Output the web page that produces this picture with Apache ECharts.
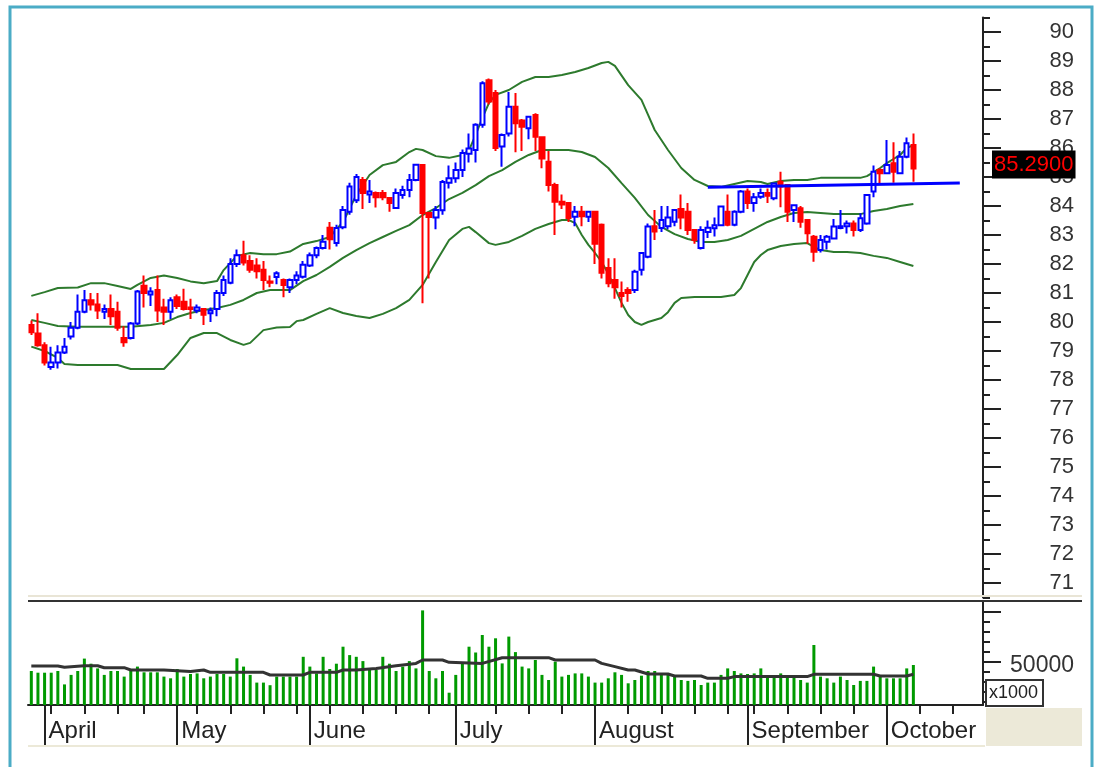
<!DOCTYPE html>
<html><head><meta charset="utf-8">
<script src="https://cdn.jsdelivr.net/npm/echarts@6/dist/echarts.min.js"></script>
<style>html,body{margin:0;padding:0;background:#fff;}#c{width:1097px;height:767px;}</style>
</head><body><div id="c"></div>
<script>
// ---- data ----
const slotCount = 144; // trading-day slots on the time axis (134 with data)
const monthNames = ['April','May','June','July','August','September','October'];
const monthStart = [2, 22, 42, 64, 85, 108, 129];
const weekTicks = [3, 8, 13, 17, 25, 30, 35, 40, 45, 50, 55, 60, 70, 75, 80, 90, 95, 100, 105, 109, 114, 119, 124, 134, 139];
const priceTicks = [71,72,73,74,75,76,77,78,79,80,81,82,83,84,85,86,87,88,89,90];
const volumeLabels = [50000];

const open = [79.9,79.6,79.2,78.45,78.6,78.95,79.5,79.8,80.35,80.75,
80.6,80.35,80.45,80.35,79.45,79.45,79.95,81.25,80.95,81.1,
80.5,80.35,80.85,80.7,80.5,80.4,80.45,80.3,80.45,81.0,
81.35,82.0,82.3,82.1,81.95,81.8,81.4,81.55,81.45,81.2,
81.45,81.56,81.95,82.3,82.55,83.25,82.72,83.27,83.8,84.2,
84.9,84.4,84.45,84.45,84.28,83.93,84.38,84.55,84.9,85.41,
83.76,83.6,83.85,84.8,84.96,85.24,85.8,85.93,86.8,88.34,
87.9,86.05,86.5,87.42,86.95,86.68,87.14,86.37,85.53,84.72,
84.15,84.1,83.63,83.8,83.63,83.8,83.35,81.86,81.45,81.0,
81.1,81.1,81.8,82.25,83.3,83.24,83.3,83.46,83.9,83.8,
83.17,82.55,83.1,83.23,83.34,83.8,83.35,83.8,84.5,84.1,
84.32,84.45,84.27,84.84,84.72,83.86,83.92,83.52,82.94,82.48,
82.77,82.88,83.24,83.3,83.4,83.17,83.4,84.5,85.24,85.13,
85.47,85.13,85.7,86.1];
const close = [79.65,79.2,78.6,78.6,78.95,79.15,79.8,80.35,80.75,80.6,
80.4,80.45,80.2,79.8,79.3,79.95,81.05,81.0,81.05,80.4,
80.35,80.75,80.55,80.45,80.45,80.5,80.25,80.4,81.0,81.45,
82.0,82.3,82.05,81.8,81.75,81.45,81.35,81.68,81.28,81.45,
81.6,81.97,82.3,82.55,82.77,82.85,83.24,83.86,84.67,85.0,
84.45,84.5,84.3,84.3,84.1,84.45,84.55,84.9,85.42,83.76,
83.62,83.86,84.83,84.96,85.24,85.83,85.98,86.8,88.23,87.6,
86.0,86.45,87.42,86.85,86.73,87.08,86.39,85.64,84.72,84.15,
84.05,83.59,83.8,83.65,83.8,82.7,81.7,81.34,81.2,80.9,
81.0,81.73,82.38,83.29,83.12,83.52,83.6,83.86,83.6,83.17,
82.83,83.17,83.25,83.34,83.98,83.35,83.8,84.5,84.1,84.3,
84.45,84.35,84.78,84.67,83.8,84.03,83.46,83.06,82.42,82.83,
82.94,83.29,83.3,83.4,83.17,83.58,84.38,85.18,85.13,85.41,
85.18,85.7,86.16,85.29];
const low = [79.55,79.15,78.5,78.35,78.4,78.9,79.4,79.75,80.3,80.4,
80.1,80.1,79.9,79.7,79.15,79.4,79.9,80.5,80.55,80.0,
79.9,80.1,80.45,80.4,80.1,80.3,79.9,80.0,80.2,80.9,
81.3,81.9,81.95,81.7,81.5,81.1,81.2,81.3,80.85,81.0,
81.3,81.5,81.9,82.2,82.5,82.5,82.6,83.2,83.7,84.1,
83.9,84.1,83.95,84.2,83.8,83.9,84.25,84.3,84.85,80.65,
81.5,83.2,83.7,84.6,84.8,85.0,85.5,85.5,86.7,87.5,
85.9,85.35,86.4,85.85,85.9,86.3,85.9,85.3,84.5,83.0,
83.9,83.45,83.3,83.3,83.45,82.0,81.5,81.2,80.8,80.5,
80.7,81.0,81.6,82.2,82.83,83.1,83.2,83.3,83.2,83.0,
82.7,82.5,82.9,82.95,83.3,83.3,83.3,83.75,83.9,83.8,
84.25,84.1,84.2,83.96,83.45,83.45,83.25,82.7,82.08,82.4,
82.5,82.85,83.2,83.05,82.95,83.1,83.35,84.3,84.75,85.1,
84.8,85.1,85.65,84.84];
const high = [80.05,80.3,79.3,79.15,79.2,79.45,80.0,80.95,81.1,81.0,
81.0,80.6,80.95,80.7,79.85,80.0,81.1,81.6,81.2,81.6,
80.8,80.85,80.95,81.15,80.8,80.6,80.45,80.5,81.1,81.6,
82.2,82.5,82.8,82.3,82.2,82.1,81.6,81.75,81.5,81.5,
81.75,82.1,82.4,82.6,83.0,83.45,83.35,84.0,84.8,85.1,
85.0,84.9,84.5,84.55,84.3,84.6,84.7,85.1,85.45,85.45,
83.8,84.0,84.9,85.4,85.5,85.95,86.5,86.85,88.3,88.4,
88.0,86.5,87.93,87.9,87.0,87.1,87.2,86.4,85.9,84.8,
84.4,84.1,84.0,84.0,83.8,83.8,83.4,82.2,82.2,81.4,
81.2,81.8,82.4,83.4,83.86,84.0,84.0,83.9,84.4,84.1,
83.2,83.3,83.5,83.6,84.0,84.4,83.85,84.55,84.6,84.45,
84.6,84.6,84.8,85.18,84.72,84.05,84.0,83.52,83.0,83.0,
83.0,83.55,83.86,83.5,83.5,83.75,84.4,85.4,85.3,86.28,
86.2,85.9,86.36,86.5];

const bbUpper = [[0,80.90],[2,81.03],[4,81.17],[7,81.19],[9,81.34],[11,81.34],[13,81.24],[15,81.14],[16,81.28],[18,81.52],[20,81.60],[22,81.52],[24,81.40],[26,81.34],[28,81.41],[29,81.79],[31,82.28],[33,82.38],[35,82.34],[37,82.34],[39,82.43],[41,82.69],[43,82.79],[45,82.93],[47,83.45],[49,84.38],[51,85.07],[53,85.41],[55,85.52],[57,85.86],[58,85.97],[59,85.93],[61,85.72],[63,85.66],[65,85.76],[66,85.93],[67,86.45],[68,87.03],[69,87.55],[70,87.83],[72,88.0],[74,88.28],[76,88.45],[78,88.45],[80,88.52],[82,88.62],[84,88.76],[86,88.93],[87,88.97],[88,88.83],[90,88.17],[92,87.66],[93,87.14],[94,86.62],[96,85.93],[98,85.31],[100,84.90],[102,84.69],[104,84.66],[106,84.76],[108,84.86],[110,84.83],[111,84.76],[113,84.86],[115,84.90],[117,84.90],[119,84.97],[121,84.97],[123,84.97],[125,84.97],[126,85.03],[127,85.17],[128,85.31],[129,85.48],[130,85.62],[131,85.76],[132,86.0],[133,86.10]];
const bbMiddle = [[0,80.07],[2,79.97],[4,79.86],[7,79.84],[15,79.84],[18,79.90],[20,79.97],[22,80.17],[24,80.31],[26,80.41],[28,80.48],[30,80.59],[32,80.76],[34,81.0],[36,81.10],[39,81.10],[41,81.41],[43,81.62],[45,81.90],[47,82.21],[49,82.48],[51,82.72],[53,82.93],[55,83.14],[57,83.34],[59,83.69],[61,83.93],[63,84.24],[65,84.45],[67,84.72],[69,85.03],[71,85.24],[73,85.52],[75,85.76],[77,85.93],[79,85.93],[81,85.93],[83,85.86],[85,85.69],[87,85.31],[89,84.79],[91,84.28],[93,83.69],[95,83.28],[97,83.03],[99,82.86],[101,82.76],[103,82.76],[105,82.83],[107,82.97],[109,83.21],[111,83.45],[113,83.62],[115,83.76],[117,83.79],[119,83.76],[121,83.72],[123,83.72],[125,83.72],[127,83.83],[129,83.90],[131,84.0],[133,84.07]];
const bbLower = [[0,79.15],[2,79.0],[4,78.76],[5,78.55],[7,78.52],[13,78.52],[15,78.38],[20,78.38],[22,78.86],[24,79.45],[26,79.62],[28,79.62],[30,79.38],[32,79.21],[33,79.28],[35,79.72],[37,79.81],[39,79.83],[40,80.03],[41,80.07],[43,80.28],[45,80.48],[47,80.31],[49,80.21],[51,80.14],[53,80.28],[55,80.48],[57,80.76],[59,81.28],[61,82.07],[63,82.83],[65,83.21],[66,83.28],[67,83.10],[69,82.72],[70,82.66],[72,82.76],[74,82.97],[76,83.21],[78,83.38],[80,83.52],[81,83.52],[82,83.41],[83,83.0],[84,82.66],[85,82.38],[86,82.07],[87,81.66],[88,81.17],[89,80.66],[90,80.24],[91,80.0],[92,79.90],[93,80.0],[95,80.14],[96,80.34],[97,80.66],[98,80.83],[100,80.86],[102,80.86],[104,80.86],[106,80.93],[107,81.17],[108,81.62],[109,82.07],[110,82.31],[111,82.48],[113,82.62],[115,82.69],[117,82.72],[118,82.59],[119,82.48],[121,82.41],[123,82.41],[125,82.38],[127,82.28],[129,82.21],[131,82.07],[133,81.93]];

const volume = [41000,39300,39300,39300,41000,27600,37100,41000,53400,48300,
43600,37100,41000,41000,35400,41000,45400,39700,39700,39700,
35400,33700,43000,35400,38000,38600,33700,35400,38000,38000,
35400,53700,45400,37100,29400,29400,26800,35400,35400,35400,
35400,55200,45400,38600,55200,43000,48300,65300,56900,55200,
50900,42000,42000,55200,48300,41000,45400,50900,43600,101600,
41000,33700,41000,19300,37100,48300,65300,59500,77000,65300,
73700,48600,75400,59900,45400,43600,52000,37100,32000,50300,
35400,37100,38600,38600,35400,29400,29400,33700,39700,37100,
28700,32000,36300,41000,41000,38000,38000,35400,32000,31100,
32000,27000,29400,29400,37100,43600,41000,38600,38000,38600,
43600,35400,35400,38600,35400,35400,32000,29400,67000,35400,
33700,29400,35400,32000,27000,31100,31100,45400,35400,33700,
33700,33700,43600,47000];
const volumeAvg = [[0,46000],[4,46000],[5,44800],[8,46300],[10,46300],[11,44300],[14,44300],[15,42000],[20,42000],[24,40400],[26,42000],[27,39700],[35,39700],[36,37000],[41,37000],[42,39700],[46,39700],[47,42000],[49,42000],[52,43600],[55,46300],[58,48600],[59,52000],[62,52000],[63,49700],[68,48600],[71,54300],[78,54300],[79,52000],[85,52000],[86,48600],[88,45400],[90,42000],[91,42000],[93,38000],[96,38000],[97,36000],[101,36000],[102,33700],[105,33700],[106,35400],[117,35400],[118,37700],[127,37700],[128,36000],[132,36000],[133,37700]];

const trendLine = [[102, 84.65], [140, 84.79]];
const lastPrice = 85.29;

// ---- chart ----
const slots = Array.from({length: slotCount}, (_, i) => String(i));
const candles = open.map((o, i) => [o, close[i], low[i], high[i]]);
const halfTicks = priceTicks.map(v => v - 0.5).concat([priceTicks[priceTicks.length - 1] + 0.5]);
const volMinor = [10000,20000,30000,40000,60000,70000,80000,90000];
const volMajor = [50000,100000];
const FONT = "'Liberation Sans', Arial, sans-serif";
const INK = '#222';

const chart = echarts.init(document.getElementById('c'), null, {renderer: 'canvas'});
chart.setOption({
  animation: false,
  backgroundColor: '#fff',
  textStyle: {fontFamily: FONT},
  grid: [
    {left: 28, width: 955, top: 17.5, height: 580},
    {left: 28, width: 955, top: 602, height: 103}
  ],
  xAxis: [
    {gridIndex: 0, type: 'category', data: slots, show: false, position: 'bottom'},
    {gridIndex: 1, type: 'category', data: slots, position: 'bottom',
      axisLine: {lineStyle: {color: INK, width: 2}},
      axisTick: {show: true, alignWithLabel: true, customValues: monthStart, length: 40, lineStyle: {color: INK, width: 2}},
      axisLabel: {customValues: monthStart, align: 'left', margin: 14,
        padding: [0, 0, 0, 4], fontSize: 24, color: INK, fontFamily: FONT,
        formatter: (v) => { const k = monthStart.indexOf(Number(v)); return k >= 0 ? monthNames[k] : ''; }},
      splitLine: {show: false}},
    {gridIndex: 1, type: 'category', data: slots, position: 'bottom', offset: 0,
      axisLine: {show: false},
      axisTick: {show: true, alignWithLabel: true, customValues: weekTicks, length: 9, lineStyle: {color: INK, width: 2}},
      axisLabel: {show: false}, splitLine: {show: false}}
  ],
  yAxis: [
    {gridIndex: 0, type: 'value', position: 'right', min: 70.5, max: 90.5, scale: true,
      axisLine: {show: true, lineStyle: {color: INK, width: 2}},
      axisTick: {show: true, customValues: priceTicks, length: 18, lineStyle: {color: INK, width: 2}},
      axisLabel: {customValues: priceTicks, align: 'right', margin: 91, fontSize: 22, color: '#333', fontFamily: FONT},
      splitLine: {show: false}},
    {gridIndex: 0, type: 'value', position: 'right', min: 70.5, max: 90.5, scale: true,
      axisLine: {show: false},
      axisTick: {show: true, customValues: halfTicks, length: 7, lineStyle: {color: INK, width: 2}},
      axisLabel: {show: false}, splitLine: {show: false}},
    {gridIndex: 1, type: 'value', position: 'right', min: 7000, max: 110000, scale: true,
      axisLine: {show: true, lineStyle: {color: INK, width: 2}},
      axisTick: {show: true, customValues: volMajor, length: 18, lineStyle: {color: INK, width: 2}},
      axisLabel: {customValues: volumeLabels, align: 'right', margin: 91, fontSize: 23, color: '#333', fontFamily: FONT,
        verticalAlign: 'top', padding: [-8, 0, 0, 0], formatter: (v) => String(v)},
      splitLine: {show: false}},
    {gridIndex: 1, type: 'value', position: 'right', min: 7000, max: 110000, scale: true,
      axisLine: {show: false},
      axisTick: {show: true, customValues: volMinor, length: 7, lineStyle: {color: INK, width: 2}},
      axisLabel: {show: false}, splitLine: {show: false}}
  ],
  series: [
    {type: 'line', xAxisIndex: 0, yAxisIndex: 0, data: bbUpper, symbol: 'none', z: 1,
      lineStyle: {color: '#2d7a2d', width: 2}},
    {type: 'line', xAxisIndex: 0, yAxisIndex: 0, data: bbMiddle, symbol: 'none', z: 1,
      lineStyle: {color: '#2d7a2d', width: 2}},
    {type: 'line', xAxisIndex: 0, yAxisIndex: 0, data: bbLower, symbol: 'none', z: 1,
      lineStyle: {color: '#2d7a2d', width: 2}},
    {type: 'candlestick', xAxisIndex: 0, yAxisIndex: 0, data: candles, barWidth: 5, z: 3,
      itemStyle: {color: '#ffffff', color0: '#ff0000', borderColor: '#0000ff', borderColor0: '#ff0000', borderWidth: 2},
      markLine: {silent: true, symbol: 'none', animation: false,
        data: [
          {yAxis: lastPrice, lineStyle: {color: 'rgba(0,0,0,0)', width: 1, opacity: 1},
            label: {show: true, position: 'end', distance: 9, formatter: lastPrice.toFixed(4), opacity: 1,
              color: '#ff0000', backgroundColor: '#000000', fontSize: 22, fontFamily: FONT,
              offset: [0, -4], padding: [3, 2, 3, 2]}},
          [{coord: trendLine[0], lineStyle: {color: '#0000ff', width: 3, type: 'solid'}, label: {show: false}},
           {coord: trendLine[1]}]
        ]}},
    {type: 'bar', xAxisIndex: 1, yAxisIndex: 2, data: volume, barWidth: 3, z: 2,
      itemStyle: {color: '#009a00'}},
    {type: 'line', xAxisIndex: 1, yAxisIndex: 2, data: volumeAvg, symbol: 'none', z: 3,
      lineStyle: {color: '#333333', width: 3}}
  ],
  graphic: [
    {type: 'line', z: 50, silent: true, shape: {x1: 28, y1: 596, x2: 1082, y2: 596}, style: {stroke: '#e9e5d6', lineWidth: 2}},
    {type: 'line', z: 50, silent: true, shape: {x1: 28, y1: 601, x2: 1082, y2: 601}, style: {stroke: '#333', lineWidth: 2}},
    {type: 'line', z: 50, silent: true, shape: {x1: 28, y1: 746, x2: 985, y2: 746}, style: {stroke: '#ece9d8', lineWidth: 2}},
    {type: 'rect', z: 50, silent: true, shape: {x: 986, y: 708, width: 96, height: 38}, style: {fill: '#ece9d8'}},
    {type: 'rect', z: 60, silent: true, shape: {x: 986, y: 680, width: 57, height: 26}, style: {fill: '#fff', stroke: '#333', lineWidth: 2}},
    {type: 'text', z: 61, silent: true, style: {x: 989, y: 693, text: 'x1000', fill: '#222', font: "18px 'Liberation Sans', Arial, sans-serif", textVerticalAlign: 'middle'}},
    {type: 'rect', z: 70, silent: true, shape: {x: 10, y: 7, width: 1082, height: 800}, style: {fill: 'none', stroke: '#4bacc6', lineWidth: 3}}
  ]
});
</script></body></html>
